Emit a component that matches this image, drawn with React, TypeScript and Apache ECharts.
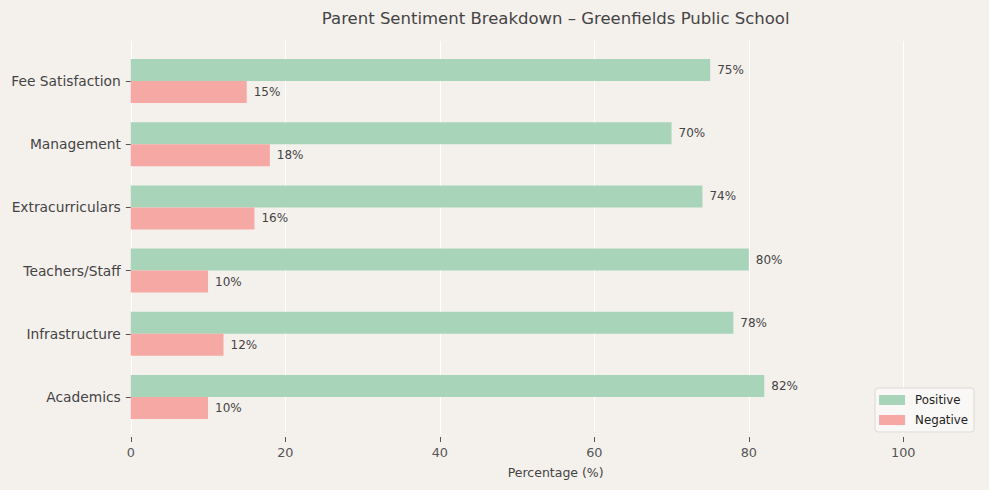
import { useEffect, useRef } from 'react';
import * as echarts from 'echarts';

// categories listed bottom to top, as the y axis draws them
const categories = ['Academics', 'Infrastructure', 'Teachers/Staff', 'Extracurriculars', 'Management', 'Fee Satisfaction'];
const positive = [82, 78, 80, 74, 70, 75];
const negative = [10, 12, 10, 16, 18, 15];
// bars run on a 0–110 scale, ticks and gridlines only go to 100
const xRange = { min: 0, max: 110 };
const xTicks = { min: 0, max: 100, interval: 20 };

const FONT = 'DejaVu Sans';
const BG = '#f4f0ec';

export default function App() {
  const chartRef = useRef<HTMLDivElement>(null);

  useEffect(() => {
    if (!chartRef.current) return;
    const chart = echarts.init(chartRef.current, null, { renderer: 'svg' });

    // plot area: 7.725px per percent, bands of 63.2px
    const PX = 7.725;
    const left = 130.8;
    const width = xRange.max * PX;

    const option: echarts.EChartsOption = {
      animation: false,
      backgroundColor: BG,
      textStyle: { fontFamily: FONT },
      graphic: [
        {
          type: 'text',
          x: left + width / 2,
          y: 18,
          style: {
            text: 'Parent Sentiment Breakdown – Greenfields Public School',
            fill: '#444444',
            font: `16.5px "${FONT}"`,
            textAlign: 'center',
            textVerticalAlign: 'middle',
          },
        },
      ],
      legend: {
        data: ['Positive', 'Negative'],
        orient: 'vertical',
        right: 15,
        top: 388,
        icon: 'rect',
        itemWidth: 26,
        itemHeight: 10,
        itemGap: 6,
        padding: [5, 6, 5, 4],
        backgroundColor: '#faf8f6',
        borderColor: '#dcdad7',
        borderWidth: 1,
        borderRadius: 3,
        textStyle: {
          color: '#222222',
          fontSize: 11.8,
          fontFamily: FONT,
          lineHeight: 14,
          padding: [0, 0, 0, 5],
        },
      },
      grid: [
        { left, width, top: 49.4, height: 379.2, containLabel: false, outerBoundsMode: 'none' },
        { left, width: xTicks.max * PX, top: 41, height: 396, containLabel: false, outerBoundsMode: 'none' },
      ] as any,
      xAxis: [
        {
          gridIndex: 0,
          type: 'value',
          ...xRange,
          name: 'Percentage (%)',
          nameLocation: 'middle',
          nameGap: 37.4,
          nameTextStyle: { color: '#444444', fontSize: 12.5, fontFamily: FONT },
          axisLine: { show: false },
          axisTick: { show: false },
          axisLabel: { show: false },
          splitLine: { show: false },
        },
        {
          gridIndex: 1,
          type: 'value',
          ...xTicks,
          axisLine: { show: false },
          axisTick: { show: true, length: 5, lineStyle: { color: '#555555' } },
          axisLabel: { color: '#555555', fontSize: 12.8, fontFamily: FONT, margin: 9 },
          splitLine: { show: true, lineStyle: { color: '#ffffff', width: 1 } },
        },
      ],
      yAxis: [
        {
          gridIndex: 0,
          type: 'category',
          data: categories,
          axisLine: { show: false },
          axisTick: { show: true, length: 5, alignWithLabel: true, lineStyle: { color: '#555555' } },
          axisLabel: { color: '#444444', fontSize: 13.8, fontFamily: FONT, margin: 10 },
          splitLine: { show: false },
        },
        {
          gridIndex: 1,
          type: 'value',
          show: false,
        },
      ],
      series: [
        {
          name: 'Positive',
          type: 'bar',
          xAxisIndex: 0,
          yAxisIndex: 0,
          data: positive,
          barWidth: 22,
          barGap: '0%',
          itemStyle: { color: '#a8d5ba' },
          label: {
            show: true,
            position: 'right',
            distance: 7,
            formatter: '{c}%',
            color: '#444444',
            fontSize: 12,
            fontFamily: FONT,
          },
        },
        {
          name: 'Negative',
          type: 'bar',
          xAxisIndex: 0,
          yAxisIndex: 0,
          data: negative,
          barWidth: 22,
          barGap: '0%',
          itemStyle: { color: '#f5a8a4' },
          label: {
            show: true,
            position: 'right',
            distance: 7,
            formatter: '{c}%',
            color: '#444444',
            fontSize: 12,
            fontFamily: FONT,
          },
        },
      ],
    };

    chart.setOption(option);

    return () => {
      chart.dispose();
    };
  }, []);

  return (
    <div
      ref={chartRef}
      style={{ position: 'fixed', left: 0, top: 0, width: '989px', height: '490px' }}
    />
  );
}
